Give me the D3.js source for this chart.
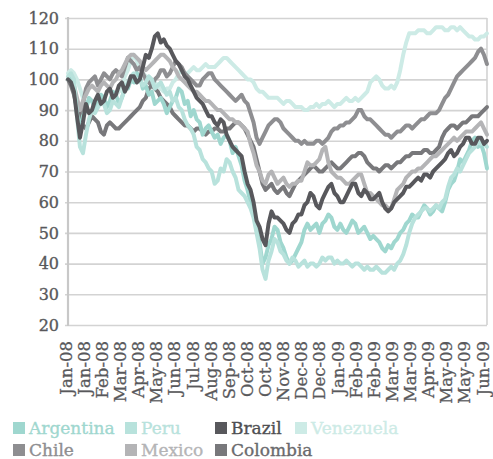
<!DOCTYPE html>
<html>
<head>
<meta charset="utf-8">
<script src="https://cdn.jsdelivr.net/npm/d3@7"></script>
<style>
  html, body { margin: 0; padding: 0; background: #ffffff; }
  svg { display: block; font-family: "DejaVu Serif", serif; }
</style>
</head>
<body>
<svg id="chart" width="493" height="459"></svg>
<script>
// ---------- data ----------
const tickLabels = ["Jan-08","Jan-08","Feb-08","Mar-08","Apr-08","May-08","Jun-08","Jul-08","Aug-08","Sep-08","Oct-08","Oct-08","Nov-08","Dec-08","Dec-08","Jan-09","Feb-09","Feb-09","Mar-09","Mar-09","Apr-09","May-09","May-09","Jun-09"];
const yTicks = [20,30,40,50,60,70,80,90,100,110,120];

const argentina = [100,101,97,89,84,88,90,94,93,90,92,95,94,91,93,96,95,92,94,97,97,100,99,102,101,97,98,95,96,92,93,94,92,89,91,93,94,97,96,92,93,88,90,87,86,82,84,85,83,81,82,79,81,82,80,76,78,75,72,67,64,60,57,51,47,40,42,46,48,52,51,47,45,42,40,41,43,45,47,51,53,51,52,53,50,53,54,56,55,52,51,53,51,50,52,54,53,50,51,52,50,48,49,48,47,45,44,46,45,47,48,50,51,53,54,56,55,55,57,59,58,56,57,59,58,57,60,64,66,67,70,74,73,75,77,80,81,78,79,76,71];
const peru      = [101,102,100,88,78,76,82,87,90,89,91,93,92,89,90,93,92,91,94,97,99,101,102,99,100,98,99,101,100,97,98,99,97,95,96,93,94,91,90,87,85,84,82,78,77,74,73,71,70,66,67,71,70,74,73,70,68,64,63,62,60,58,55,50,45,38,35,41,44,48,47,44,43,41,40,42,41,39,40,41,39,40,40,39,40,42,41,42,42,40,41,40,40,41,40,39,40,40,39,38,39,38,38,39,38,37,37,38,39,38,40,41,43,46,50,53,55,56,57,58,58,57,58,59,58,60,61,65,68,69,71,70,72,74,76,77,78,80,79,79,78];
const brazil    = [100,99,96,88,81,86,92,89,90,93,95,92,93,96,97,94,95,98,99,96,98,101,101,99,100,104,108,107,110,114,115,112,113,111,110,108,106,105,103,101,100,98,96,94,93,92,90,88,88,86,85,87,86,82,80,78,77,76,75,70,66,64,60,54,52,48,46,53,57,55,55,54,53,51,50,53,54,56,56,59,60,63,62,59,58,61,63,65,66,63,62,60,60,62,64,66,66,63,62,64,63,61,61,62,63,60,58,57,58,60,61,62,63,65,65,66,67,68,67,69,69,68,70,71,72,73,74,76,77,75,76,78,79,81,81,79,79,81,81,79,80];
const venezuela = [102,103,102,100,97,94,92,93,93,92,91,92,93,92,92,94,95,96,97,101,103,106,108,106,104,102,101,100,99,99,98,97,96,97,97,99,100,102,103,102,102,103,104,103,103,104,105,104,104,104,105,106,107,107,106,105,104,103,102,101,100,100,99,97,96,96,95,94,94,94,94,93,92,93,93,92,91,91,91,90,90,91,91,92,91,92,92,93,92,91,92,92,93,94,93,93,94,93,94,95,96,99,100,101,100,98,97,97,98,97,99,103,108,112,115,115,115,116,116,116,115,115,116,117,117,117,116,116,117,117,116,117,116,115,114,114,113,113,114,114,115];
const chile     = [100,99,97,90,86,92,97,99,100,101,98,100,102,101,100,102,103,102,101,104,107,106,105,103,104,102,100,99,98,100,101,103,103,101,102,104,106,105,104,102,101,100,99,98,98,100,101,102,102,100,99,98,97,96,95,94,93,94,95,93,92,89,86,81,79,81,83,85,86,87,87,86,84,83,82,81,80,80,79,80,79,79,79,80,80,79,80,81,83,84,84,85,85,86,86,87,88,90,90,88,87,87,86,85,84,83,82,82,81,82,83,83,84,85,85,84,85,86,87,87,88,89,89,89,90,92,94,95,97,99,101,102,103,104,105,106,107,109,110,108,105];
const mexico    = [100,99,98,94,90,93,95,97,98,97,96,98,99,98,97,99,100,102,103,105,107,108,108,107,106,104,103,104,105,106,107,108,108,107,106,104,103,101,100,99,98,97,96,96,95,94,93,93,92,91,90,90,89,88,87,87,86,86,85,84,83,79,76,72,70,67,66,69,70,68,66,67,68,66,65,66,66,67,67,70,73,72,72,73,74,77,78,73,70,69,68,68,67,66,66,67,68,69,69,66,63,63,62,61,60,59,59,58,58,61,64,65,66,68,69,70,70,71,71,72,73,74,75,75,76,77,78,79,80,81,80,81,82,83,83,83,84,85,86,84,82];
const colombia  = [100,98,95,91,88,85,84,86,88,87,86,83,82,85,86,85,84,84,85,86,87,88,89,90,91,93,94,97,98,97,96,94,93,92,91,89,88,87,86,85,85,84,83,84,84,83,82,83,83,84,84,83,83,84,84,85,86,86,85,84,82,80,78,74,70,66,64,65,66,64,63,64,65,63,62,64,66,67,68,69,70,71,72,71,70,70,71,72,73,72,71,71,72,73,74,75,75,76,76,75,73,72,71,71,70,71,72,72,71,72,73,73,74,75,75,76,76,76,76,77,77,76,76,77,78,81,83,84,85,85,84,85,86,86,87,88,88,88,89,90,91];

const seriesNames  = ["Argentina","Peru","Brazil","Venezuela","Chile","Mexico","Colombia"];
const seriesValues = [argentina, peru, brazil, venezuela, chile, mexico, colombia];
const lineColors   = ["#9fd7cf","#b8e2dc","#58585c","#cdebe6","#8e8e91","#b4b4b6","#78787b"];
const textColors   = ["#9fd7cf","#b8e2dc","#4f4f52","#cdebe6","#8e8e91","#b4b4b6","#6a6a6d"];

// ---------- layout ----------
const svg = d3.select("#chart");
const pL = 68, pR = 487, pT = 18, pB = 325;

const y = d3.scaleLinear().domain([20, 120]).range([pB, pT]);
const xLab = d3.scalePoint().domain(d3.range(tickLabels.length)).range([pL - 1.5, pR - 3.5]);

// gridlines via axis
const gy = svg.append("g").attr("transform", `translate(${pR},0)`)
  .call(d3.axisLeft(y).tickValues(yTicks).tickSize(pR - pL + 3).tickFormat(""));
gy.select(".domain").remove();
gy.selectAll(".tick line").attr("stroke", "#d3d3d3").attr("stroke-width", 1.6);

// right border
svg.append("line").attr("x1", pR).attr("x2", pR).attr("y1", pT).attr("y2", pB)
  .attr("stroke", "#d3d3d3").attr("stroke-width", 1.6);

// y labels
const gyl = svg.append("g").attr("transform", `translate(${pL},0)`)
  .call(d3.axisLeft(y).tickValues(yTicks).tickSize(0).tickPadding(9).tickFormat(d3.format("d")));
gyl.select(".domain").remove();
gyl.selectAll("text").attr("font-family", "DejaVu Serif, serif").attr("font-size", 16)
  .attr("fill", "#58585b").attr("stroke", "#58585b").attr("stroke-width", 0.35);

// left axis line
svg.append("line").attr("x1", pL).attr("x2", pL).attr("y1", pT - 1).attr("y2", pB + 1)
  .attr("stroke", "#c8c8c8").attr("stroke-width", 2.2);

// x labels
const gx = svg.append("g").attr("transform", `translate(0,${pB})`)
  .call(d3.axisBottom(xLab).tickSize(0).tickFormat(i => tickLabels[i]));
gx.select(".domain").remove();
gx.selectAll("text")
  .attr("font-family", "DejaVu Serif, serif").attr("font-size", 16.5)
  .attr("fill", "#58585b").attr("stroke", "#58585b").attr("stroke-width", 0.3)
  .attr("text-anchor", "end")
  .attr("transform", "translate(0,16) rotate(-90)")
  .attr("x", 0).attr("y", 0).attr("dy", "0.28em");

// lines
const drawOrder = [3, 4, 6, 5, 0, 1, 2];
svg.append("g").selectAll("path").data(drawOrder).join("path")
  .attr("d", k => {
    const vals = seriesValues[k];
    const x = d3.scaleLinear().domain([0, vals.length - 1]).range([pL, pR]);
    return d3.line().x((d, i) => x(i)).y(d => y(d))(vals);
  })
  .attr("fill", "none")
  .attr("stroke", k => lineColors[k])
  .attr("stroke-width", 4)
  .attr("stroke-linejoin", "round")
  .attr("stroke-linecap", "round");

// legend
const legendPos = [[13, 422], [125, 422], [215, 422], [295, 422], [13, 444], [125, 444], [215, 444]];
const lg = svg.append("g").selectAll("g").data(seriesNames).join("g")
  .attr("transform", (d, i) => `translate(${legendPos[i][0]},${legendPos[i][1]})`);
lg.append("rect").attr("width", 12).attr("height", 12).attr("fill", (d, i) => lineColors[i]);
lg.append("text").attr("x", 16).attr("y", 11.5).text(d => d)
  .attr("font-family", "DejaVu Serif, serif").attr("font-size", 17)
  .attr("fill", (d, i) => textColors[i])
  .attr("stroke", (d, i) => textColors[i]).attr("stroke-width", 0.35);
</script>
</body>
</html>
